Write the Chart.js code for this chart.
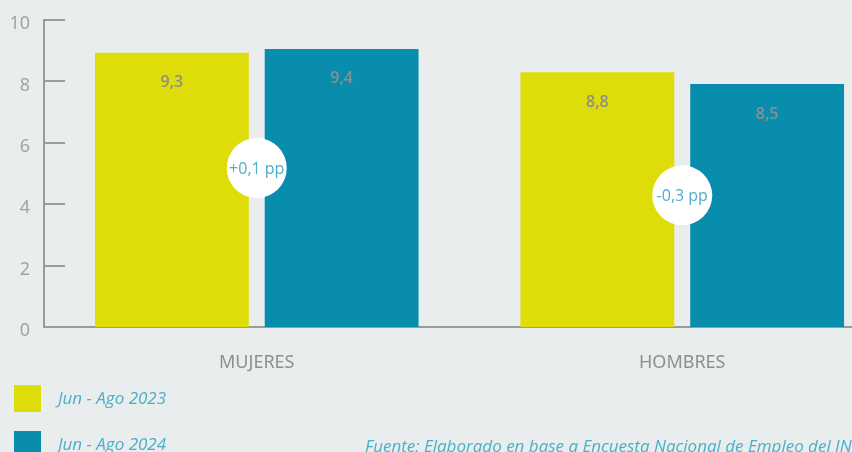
<!DOCTYPE html>
<html><head><meta charset="utf-8">
<script src="https://cdn.jsdelivr.net/npm/chart.js@4.4.1/dist/chart.umd.min.js"></script>
<style>
html,body{margin:0;padding:0;background:#e9edee;width:852px;height:452px;overflow:hidden;position:relative;}
#wrap{position:absolute;left:0;top:0;width:900px;height:452px;}
.sq{position:absolute;left:14px;width:27px;height:27px;}
.lt{position:absolute;left:58px;font:italic 17px 'Open Sans';color:#4bafc7;white-space:nowrap;line-height:20px;}
#src{position:absolute;left:365px;top:436px;font:italic 17px 'Open Sans';color:#4bafc7;white-space:nowrap;line-height:20px;}
</style></head>
<body>
<div id="wrap"><canvas id="c"></canvas></div>
<div id="legend"></div>
<div id="src"></div>
<script>
const categories = ['MUJERES', 'HOMBRES'];
const series2023 = [9.3, 8.8];
const series2024 = [9.4, 8.5];
const seriesLabels = ['Jun - Ago 2023', 'Jun - Ago 2024'];
const seriesColors = ['#dedc09', '#088eac'];
const yTicks = [0, 2, 4, 6, 8, 10];
const sourceText = 'Fuente: Elaborado en base a Encuesta Nacional de Empleo del INE';

const fmt = v => v.toFixed(1).replace('.', ',');
const AXIS = '#9b9b9b';

const innerTicks = {
  id: 'innerTicks',
  afterDatasetsDraw(chart) {
    const ctx = chart.ctx, y = chart.scales.y, yb = chart.scales.yBar, x = chart.scales.x;
    const left = chart.chartArea.left;
    ctx.save();
    ctx.strokeStyle = AXIS; ctx.lineWidth = 2;
    yTicks.forEach(v => {
      const py = Math.round(y.getPixelForValue(v));
      ctx.beginPath(); ctx.moveTo(left, py); ctx.lineTo(left + 21, py); ctx.stroke();
    });
    ctx.font = '600 16px "Open Sans"';
    ctx.fillStyle = '#8e8e8e';
    ctx.textAlign = 'center'; ctx.textBaseline = 'middle';
    chart.data.datasets.forEach((ds, di) => {
      chart.getDatasetMeta(di).data.forEach((bar, i) => {
        ctx.fillText(fmt(ds.data[i]), bar.x, bar.y + 30);
      });
    });
    categories.forEach((c, i) => {
      const a = series2023[i], b = series2024[i];
      const d = Math.round((b - a) * 10) / 10;
      const txt = (d > 0 ? '+' : d < 0 ? '-' : '') + fmt(Math.abs(d)) + ' pp';
      const px = x.getPixelForValue(i);
      const py = yb.getPixelForValue((a + b) / 2 - 3);
      ctx.beginPath(); ctx.arc(px, py, 30, 0, Math.PI * 2);
      ctx.fillStyle = '#ffffff'; ctx.fill();
      ctx.font = '16px "Open Sans"'; ctx.fillStyle = '#4bafc7';
      ctx.fillText(txt, px, py + 1);
    });
    ctx.restore();
  }
};

new Chart(document.getElementById('c'), {
  type: 'bar',
  data: {
    labels: categories,
    datasets: [
      { label: seriesLabels[0], data: series2023, backgroundColor: seriesColors[0], yAxisID: 'yBar',
        barPercentage: 0.906, categoryPercentage: 0.798 },
      { label: seriesLabels[1], data: series2024, backgroundColor: seriesColors[1], yAxisID: 'yBar',
        barPercentage: 0.906, categoryPercentage: 0.798 }
    ]
  },
  options: {
    responsive: true, maintainAspectRatio: false, animation: false,
    layout: { padding: { top: 20, right: 5, left: 0, bottom: 0 } },
    plugins: { legend: { display: false }, tooltip: { enabled: false } },
    scales: {
      x: {
        grid: { display: false, drawTicks: false },
        border: { display: true, color: AXIS, width: 2 },
        ticks: { color: '#8f8f8f', font: { family: 'Noto Sans', size: 18 }, padding: 25 },
        afterFit: s => { s.height = 125; s.paddingLeft = 0; s.paddingRight = 0; }
      },
      y: {
        position: 'left', min: 0, max: 10,
        afterBuildTicks: s => { s.ticks = yTicks.map(v => ({ value: v })); },
        grid: { display: true, drawOnChartArea: false, drawTicks: false },
        border: { display: true, color: AXIS, width: 2 },
        ticks: { color: '#a3a3a3', font: { family: 'Noto Sans', size: 18 }, padding: 14, labelOffset: 4 },
        afterFit: s => { s.width = 44; s.paddingTop = 0; s.paddingBottom = 0; }
      },
      yBar: { display: false, min: 2.28, max: 10.14, beginAtZero: false }
    }
  },
  plugins: [innerTicks]
});

const leg = document.getElementById('legend');
seriesLabels.forEach((l, i) => {
  const top = 385 + i * 46;
  const sq = document.createElement('div'); sq.className = 'sq';
  sq.style.top = top + 'px'; sq.style.background = seriesColors[i];
  const t = document.createElement('div'); t.className = 'lt';
  t.style.top = (top + 3) + 'px'; t.textContent = l;
  leg.appendChild(sq); leg.appendChild(t);
});
document.getElementById('src').textContent = sourceText;
</script>
</body></html>
